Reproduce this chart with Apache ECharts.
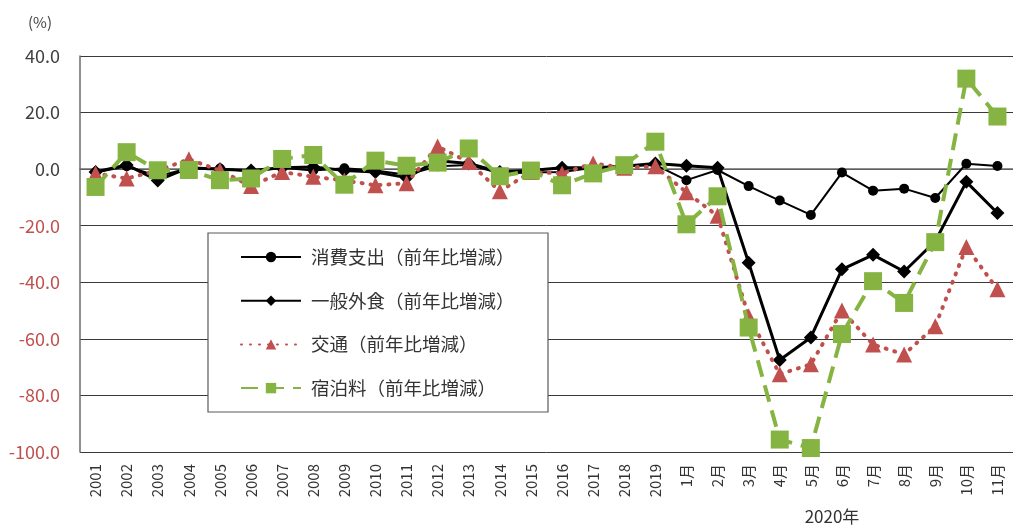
<!DOCTYPE html>
<html>
<head>
<meta charset="utf-8">
<script src="https://cdn.jsdelivr.net/npm/echarts@6/dist/echarts.min.js"></script>
<style>
  html, body { margin: 0; padding: 0; background: #ffffff; }
  #chart { width: 1013px; height: 527px; }
</style>
</head>
<body>
<div id="chart"></div>
<script>
// 年次（2001〜2019）と2020年の月次
const categories = [
  '2001','2002','2003','2004','2005','2006','2007','2008','2009','2010',
  '2011','2012','2013','2014','2015','2016','2017','2018','2019',
  '1月','2月','3月','4月','5月','6月','7月','8月','9月','10月','11月'
];

// 前年比増減（%）
const spending = [
  -1.2, 1.0, -2.5, 0.3, 0.2, -0.8, 0.5, -0.5, 0.3, -0.5,
  -2.0, 1.0, 1.5, -1.5, -1.2, -1.0, 0.5, 1.0, 1.5,
  -3.9, -0.3, -6.0, -11.1, -16.2, -1.2, -7.6, -6.9, -10.2, 1.9, 1.1
];
const eatingOut = [
  -1.0, 1.5, -4.0, 0.5, 0.0, -0.5, 0.5, 0.8, -0.5, -1.0,
  -3.0, 3.0, 2.0, -1.0, -0.5, 0.5, 0.5, 1.0, 2.0,
  1.2, 0.5, -33.1, -67.5, -59.5, -35.4, -30.3, -36.2, -25.5, -4.5, -15.5
];
const transport = [
  -1.5, -3.3, -0.5, 3.5, -0.5, -6.0, -1.0, -2.7, -4.0, -5.7,
  -5.0, 8.0, 2.5, -7.8, -1.0, -1.5, 2.0, 0.5, 1.0,
  -8.2, -16.5, -52.0, -72.5, -69.0, -50.0, -62.0, -65.5, -55.5, -27.5, -42.5
];
const lodging = [
  -6.3, 6.0, -0.4, -0.3, -3.9, -3.3, 3.6, 5.0, -5.5, 3.0,
  1.2, 2.3, 7.3, -2.5, -0.5, -5.7, -1.5, 1.4, 9.7,
  -19.5, -9.6, -56.0, -95.6, -98.6, -58.3, -39.6, -47.3, -25.8, 32.0, 18.6
];

const seriesNames = [
  '消費支出（前年比増減）',
  '一般外食（前年比増減）',
  '交通（前年比増減）',
  '宿泊料（前年比増減）'
];

const FONT = '"Noto Sans CJK JP", "Noto Sans", sans-serif';
const RED = '#c0504d';
const GREEN = '#86b443';

const chart = echarts.init(document.getElementById('chart'), null, { renderer: 'canvas' });

chart.setOption({
  animation: false,
  backgroundColor: '#ffffff',
  textStyle: { fontFamily: FONT },
  grid: { left: 80, top: 56, width: 934, height: 396, containLabel: false },
  xAxis: {
    type: 'category',
    data: categories,
    boundaryGap: true,
    axisLine: { show: true, lineStyle: { color: '#6b6b6b', width: 1.5 } },
    axisTick: { show: false },
    axisLabel: {
      rotate: 90,
      interval: 0,
      margin: 12,
      fontSize: 15,
      fontFamily: FONT,
      color: '#333333'
    },
    splitLine: { show: false }
  },
  yAxis: {
    type: 'value',
    min: -100,
    max: 40,
    interval: 20,
    axisLine: { show: true, lineStyle: { color: '#6b6b6b', width: 1.5 } },
    axisTick: { show: false },
    axisLabel: {
      margin: 20,
      fontSize: 18,
      fontFamily: FONT,
      formatter: v => v.toFixed(1),
      color: v => (Number(v) < 0 ? RED : '#404040')
    },
    splitLine: { show: true, lineStyle: { color: '#3a3a3a', width: 1 } }
  },
  legend: {
    orient: 'vertical',
    left: 240,
    top: 246,
    itemWidth: 60,
    itemHeight: 13,
    itemGap: 21.7,
    padding: 0,
    data: seriesNames,
    textStyle: { fontSize: 18.5, lineHeight: 22, color: '#333333', fontFamily: FONT, padding: [0, 0, 0, 5] },
    z: 5
  },
  graphic: [
    {
      type: 'rect',
      z: 3,
      shape: { x: 208, y: 233, width: 340, height: 179 },
      style: { fill: '#ffffff', stroke: '#5a5a5a', lineWidth: 1.2 }
    },
    {
      type: 'text',
      z: 5,
      style: { text: '(%)', x: 28, y: 22, fontSize: 15, fontFamily: FONT, fill: '#404040', verticalAlign: 'middle' }
    },
    {
      type: 'text',
      z: 5,
      style: { text: '2020年', x: 832, y: 517, fontSize: 17, fontFamily: FONT, fill: '#333333', align: 'center', verticalAlign: 'middle' }
    }
  ],
  series: [
    {
      name: seriesNames[0],
      type: 'line',
      data: spending,
      symbol: 'circle',
      symbolSize: 10,
      itemStyle: { color: '#000000' },
      lineStyle: { color: '#000000', width: 2 },
      z: 2
    },
    {
      name: seriesNames[1],
      type: 'line',
      data: eatingOut,
      symbol: 'diamond',
      symbolSize: 14,
      itemStyle: { color: '#000000' },
      lineStyle: { color: '#000000', width: 3 },
      z: 3
    },
    {
      name: seriesNames[2],
      type: 'line',
      data: transport,
      symbol: 'triangle',
      symbolSize: 16,
      itemStyle: { color: RED },
      lineStyle: { color: RED, width: 4, type: [1, 8], cap: 'round' },
      z: 4
    },
    {
      name: seriesNames[3],
      type: 'line',
      data: lodging,
      symbol: 'rect',
      symbolSize: 18,
      itemStyle: { color: GREEN },
      lineStyle: { color: GREEN, width: 4, type: [17, 9] },
      z: 5
    }
  ]
});
</script>
</body>
</html>
